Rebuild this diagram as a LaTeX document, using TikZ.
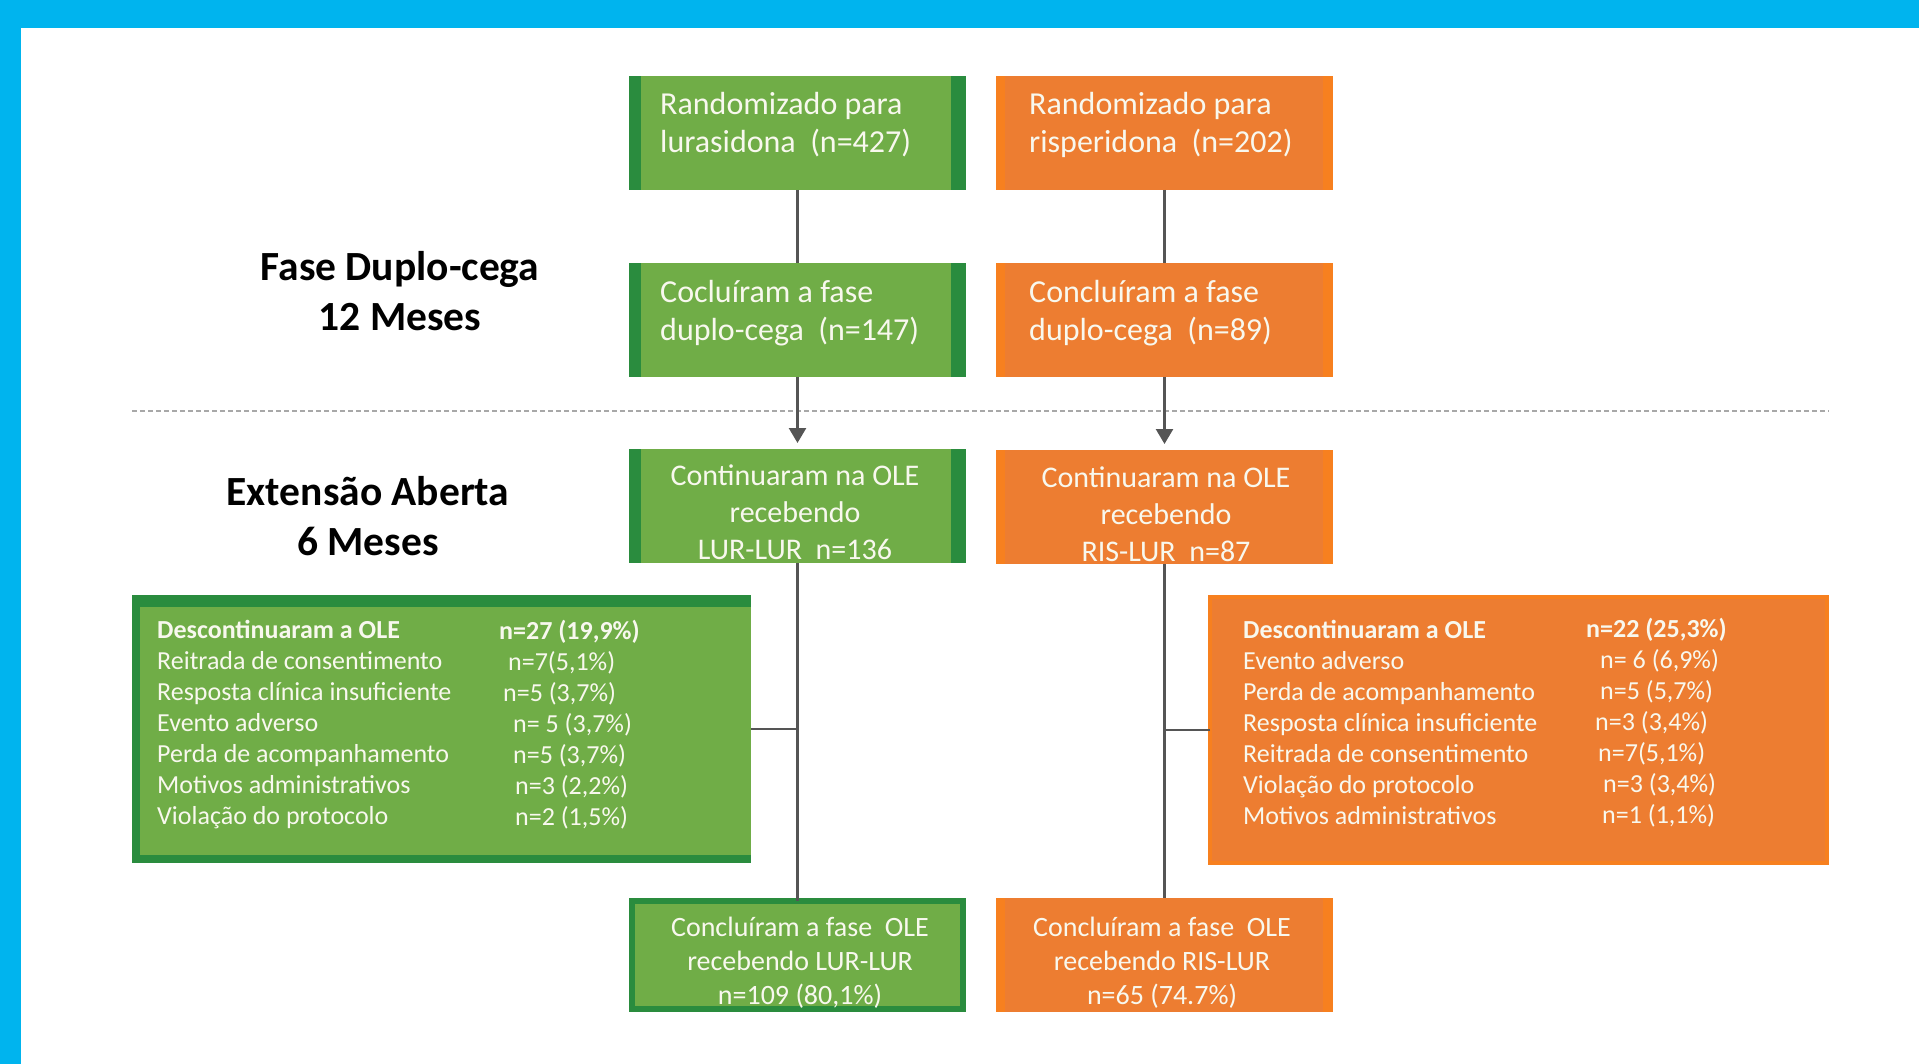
\documentclass[tikz,border=0pt]{standalone}
\usepackage{fontspec}
\setmainfont{Carlito}
\usetikzlibrary{arrows.meta}
\definecolor{frameblue}{HTML}{00B4EE}
\definecolor{lgreen}{HTML}{70AD47}
\definecolor{dgreen}{HTML}{2A8C3E}
\definecolor{lorange}{HTML}{ED7D31}
\definecolor{borange}{HTML}{F7801F}
\definecolor{linegray}{HTML}{555555}
\definecolor{txtw}{HTML}{F8F8EE}
\definecolor{dashgray}{HTML}{A8A8A8}
\tikzset{
  flowbox/.style={rectangle, inner sep=0pt, outer sep=0pt, anchor=north west, minimum width=337pt, minimum height=114pt},
  gbox/.style={flowbox, fill=lgreen,
    path picture={\fill[dgreen] (path picture bounding box.north west) rectangle ([xshift=12pt]path picture bounding box.south west);
                  \fill[dgreen] ([xshift=-15pt]path picture bounding box.north east) rectangle (path picture bounding box.south east);}},
  gboxframed/.style={flowbox, fill=lgreen, draw=dgreen, line width=6pt, minimum width=331pt, minimum height=108pt},
  obox/.style={flowbox, fill=lorange,
    path picture={\fill[borange] (path picture bounding box.north west) rectangle ([xshift=9pt]path picture bounding box.south west);
                  \fill[borange] ([xshift=-10pt]path picture bounding box.north east) rectangle (path picture bounding box.south east);}},
  btext/.style={text=txtw, font=\fontsize{32}{38}\selectfont, align=left, inner sep=0pt, anchor=west},
  ctext/.style={text=txtw, font=\fontsize{30}{37}\selectfont, align=center, inner sep=0pt},
  ftext/.style={text=txtw, font=\fontsize{28}{34}\selectfont, align=center, inner sep=0pt},
  dtext/.style={text=txtw, font=\fontsize{26}{31}\selectfont, align=left, inner sep=0pt, anchor=west},
  htext/.style={text=black, font=\fontsize{41.5}{50}\selectfont\bfseries, align=center, inner sep=0pt},
  conn/.style={draw=linegray, line width=2.5pt},
}
\begin{document}
\begin{tikzpicture}[x=1pt,y=-1pt]
\useasboundingbox (0,0) rectangle (1919,1064);
\fill[white] (0,0) rectangle (1919,1064);
\fill[frameblue] (0,0) rectangle (1919,28);
\fill[frameblue] (0,0) rectangle (21,1064);

% dashed separator
\coordinate (dl) at (132,411);
\coordinate (dr) at (1829,411);
\draw[dashgray, line width=1.5pt, dash pattern=on 5pt off 3pt] (dl) -- (dr);

% phase headings
\node[htext] (h1) at (400,291) {Fase Duplo-cega\\12 Meses};
\node[htext] (h2) at (368,516) {Extensão Aberta\\6 Meses};

% green column
\node[gbox] (g1) at (629,76) {};
\node[gbox] (g2) at (629,263) {};
\node[gbox] (g3) at (629,449) {};
\node[gboxframed] (g4) at (632,901) {};

% orange column
\node[obox] (o1) at (996,76) {};
\node[obox] (o2) at (996,263) {};
\node[obox] (o3) at (996,450) {};
\node[obox] (o4) at (996,898) {};

% discontinued boxes
\node[rectangle, inner sep=0pt, outer sep=0pt, anchor=north west, minimum width=619pt, minimum height=268pt, fill=lgreen,
  path picture={\fill[dgreen] (path picture bounding box.north west) rectangle ([xshift=8pt]path picture bounding box.south west);
                \fill[dgreen] (path picture bounding box.north west) rectangle ([yshift=-12pt]path picture bounding box.north east);
                \fill[dgreen] ([yshift=8pt]path picture bounding box.south west) rectangle (path picture bounding box.south east);}]
  (dL) at (132,595) {};
\node[rectangle, inner sep=0pt, outer sep=0pt, anchor=north west, minimum width=617pt, minimum height=266pt, fill=lorange,
  draw=borange, line width=4pt] (dR) at (1210,597) {};

% connectors
\draw[conn] (g1.south) -- (g2.north);
\draw[conn] (o1.south) -- (o2.north);
\draw[conn, -{Triangle[length=15pt,width=17pt]}, shorten >=6pt] (g2.south) -- (g3.north);
\draw[conn, -{Triangle[length=15pt,width=17pt]}, shorten >=6pt] (o2.south) -- (o3.north);
\draw[conn] (g3.south) -- (g4.north);
\draw[conn] (o3.south) -- (o4.north);
\draw[conn] (dL.east) -- (dL.east -| g3.south);
\draw[conn] (dR.west) -- (dR.west -| o3.south);

% box texts
\node[btext] (t1) at (660,125) {Randomizado para\\lurasidona\ \ (n=427)};
\node[btext] (t2) at (1029,125) {Randomizado para\\risperidona\ \ (n=202)};
\node[btext] (t3) at (660,313) {Cocluíram a fase\\duplo-cega\ \ (n=147)};
\node[btext] (t4) at (1029,313) {Concluíram a fase\\duplo-cega\ \ (n=89)};
\node[ctext] (t5) at (795,512) {Continuaram na OLE\\recebendo\\LUR-LUR\ \ n=136};
\node[ctext] (t6) at (1166,514) {Continuaram na OLE\\recebendo\\RIS-LUR\ \ n=87};
\node[ftext] (t7) at (800,963) {Concluíram a fase\ \ OLE\\recebendo LUR-LUR\\n=109 (80,1\%)};
\node[ftext] (t8) at (1162,963) {Concluíram a fase\ \ OLE\\recebendo RIS-LUR\\n=65 (74.7\%)};

% discontinued texts left
\node[dtext] (dLa) at (157,724.5) {\textbf{Descontinuaram a OLE}\\Reitrada de consentimento\\Resposta clínica insuficiente\\Evento adverso\\Perda de acompanhamento\\Motivos administrativos\\Violação do protocolo};
\node[dtext] (dLb) at (499,724.5) {\textbf{n=27 (19,9\%)}\\\hspace*{9pt}n=7(5,1\%)\\\hspace*{4pt}n=5 (3,7\%)\\\hspace*{14pt}n= 5 (3,7\%)\\\hspace*{14pt}n=5 (3,7\%)\\\hspace*{16pt}n=3 (2,2\%)\\\hspace*{16pt}n=2 (1,5\%)};

% discontinued texts right
\node[dtext] (dRa) at (1243,722.7) {\textbf{Descontinuaram a OLE}\\Evento adverso\\Perda de acompanhamento\\Resposta clínica insuficiente\\Reitrada de consentimento\\Violação do protocolo\\Motivos administrativos};
\node[dtext] (dRb) at (1586,722.7) {\textbf{n=22 (25,3\%)}\\\hspace*{14pt}n= 6 (6,9\%)\\\hspace*{14pt}n=5 (5,7\%)\\\hspace*{9pt}n=3 (3,4\%)\\\hspace*{12pt}n=7(5,1\%)\\\hspace*{17pt}n=3 (3,4\%)\\\hspace*{16pt}n=1 (1,1\%)};
\end{tikzpicture}
\end{document}
